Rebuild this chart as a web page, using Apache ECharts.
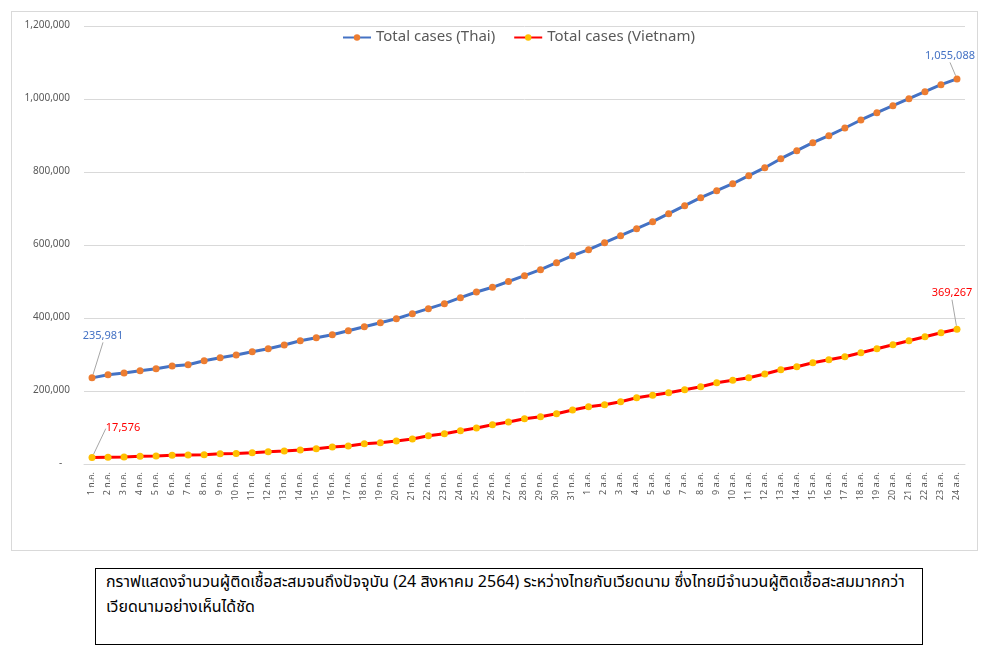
<!DOCTYPE html>
<html>
<head>
<meta charset="utf-8">
<script src="https://cdn.jsdelivr.net/npm/echarts@6/dist/echarts.min.js"></script>
<style>
  html, body { margin: 0; padding: 0; background: #fff; }
  body { width: 996px; height: 657px; position: relative; overflow: hidden;
         font-family: "Noto Sans Thai", "Noto Sans", "Open Sans", sans-serif; }
  #frame { position: absolute; left: 11px; top: 11px; width: 967px; height: 540px;
           border: 1px solid #d9d9d9; box-sizing: border-box; }
  #chart { position: absolute; left: 0; top: 0; width: 996px; height: 560px; }
  #caption { position: absolute; left: 95px; top: 568px; width: 828px; height: 77px;
             border: 1px solid #000; box-sizing: border-box; padding: 1px 10px;
             font-size: 16px; line-height: 25px; color: #000; white-space: nowrap; }
</style>
</head>
<body>
<div id="frame"></div>
<div id="chart"></div>
<div id="caption">กราฟแสดงจำนวนผู้ติดเชื้อสะสมจนถึงปัจจุบัน (24 สิงหาคม 2564) ระหว่างไทยกับเวียดนาม ซึ่งไทยมีจำนวนผู้ติดเชื้อสะสมมากกว่า<br>เวียดนามอย่างเห็นได้ชัด</div>
<script>
// ---- data ----
const julyDays = Array.from({length: 31}, (_, i) => (i + 1) + ' ก.ค.');
const augDays = Array.from({length: 24}, (_, i) => (i + 1) + ' ส.ค.');
const categories = julyDays.concat(augDays);

const thaiCases = [
  235981, 244700, 249300, 255600, 261100, 268500, 272000, 283000, 291200, 298600,
  307700, 315900, 326000, 337800, 346000, 354200, 365200, 376200, 387100, 398000,
  411800, 425500, 439200, 455600, 471200, 484100, 500000, 515900, 532300, 551500,
  570700,
  587100, 606300, 625500, 644700, 663800, 685800, 707700, 729600, 748800, 767900,
  789900, 811800, 836400, 858400, 880300, 899500, 920500, 942500, 962500, 981600,
  1000800, 1020000, 1039200, 1055088
];
const vietnamCases = [
  17576, 18500, 19000, 21500, 22000, 23700, 24700, 25500, 28300, 28800,
  31000, 33700, 35600, 38400, 42000, 46600, 49300, 55600, 58400, 63000,
  68500, 77600, 83100, 91200, 98600, 107700, 115000, 124100, 129600, 137800,
  147900,
  157000, 162500, 170700, 181600, 188100, 195300, 203600, 211800, 222700, 229300,
  236400, 246600, 258400, 266600, 277500, 285800, 294000, 305000, 315900, 326800,
  337800, 348800, 359700, 369267
];
const seriesNames = ['Total cases (Thai)', 'Total cases (Vietnam)'];
const yTicks = { min: 0, max: 1200000, interval: 200000 };

// ---- helpers ----
const fmt = v => v.toLocaleString('en-US');
function withEndLabels(values, color) {
  const last = values.length - 1;
  return values.map((v, i) => (i === 0 || i === last) ? {
    value: v,
    label: { show: true, position: 'top', color: color, fontSize: 11,
             formatter: p => fmt(p.value) },
    labelLine: { show: true, lineStyle: { color: '#a6a6a6', width: 1 } }
  } : v);
}
// label offsets (style only)
const labelOffsets = {
  '0-first': { dx: 11, dy: -27 },
  '0-last': { dx: -7, dy: -8 },
  '1-first': { dx: 31, dy: -15 },
  '1-last': { dx: -5, dy: -21 }
};

const chart = echarts.init(document.getElementById('chart'), null, { renderer: 'canvas' });
const axisText = '#595959';
chart.setOption({
  animation: false,
  textStyle: { fontFamily: '"Noto Sans Thai", "Noto Sans", "Open Sans", sans-serif' },
  legend: {
    left: 337, top: 25,
    itemWidth: 28, itemHeight: 8, itemGap: 18,
    textStyle: { color: axisText, fontSize: 15 },
    data: seriesNames
  },
  grid: { left: 84, right: 31, top: 26, bottom: 96, containLabel: false },
  xAxis: {
    type: 'category',
    data: categories,
    boundaryGap: true,
    axisTick: { show: false },
    axisLine: { lineStyle: { color: '#d9d9d9' } },
    axisLabel: { rotate: 90, interval: 0, fontSize: 9, color: axisText, margin: 8 }
  },
  yAxis: {
    type: 'value',
    min: yTicks.min, max: yTicks.max, interval: yTicks.interval,
    axisLine: { show: false },
    axisTick: { show: false },
    splitLine: { lineStyle: { color: '#d9d9d9' } },
    axisLabel: { fontSize: 10, color: axisText, margin: 14,
                 formatter: v => v === 0 ? '-   ' : fmt(v) }
  },
  series: [
    {
      name: seriesNames[0], type: 'line',
      data: withEndLabels(thaiCases, '#4472C4'),
      symbol: 'circle', symbolSize: 7,
      lineStyle: { color: '#4472C4', width: 3 },
      itemStyle: { color: '#ED7D31' },
      label: { show: false },
      labelLayout: p => {
        if (p.dataIndex === 0) return labelOffsets['0-first'];
        if (p.dataIndex === thaiCases.length - 1) return labelOffsets['0-last'];
        return {};
      }
    },
    {
      name: seriesNames[1], type: 'line',
      data: withEndLabels(vietnamCases, '#FF0000'),
      symbol: 'circle', symbolSize: 7,
      lineStyle: { color: '#FF0000', width: 3 },
      itemStyle: { color: '#FFC000' },
      label: { show: false },
      labelLayout: p => {
        if (p.dataIndex === 0) return labelOffsets['1-first'];
        if (p.dataIndex === vietnamCases.length - 1) return labelOffsets['1-last'];
        return {};
      }
    }
  ]
});
</script>
</body>
</html>
